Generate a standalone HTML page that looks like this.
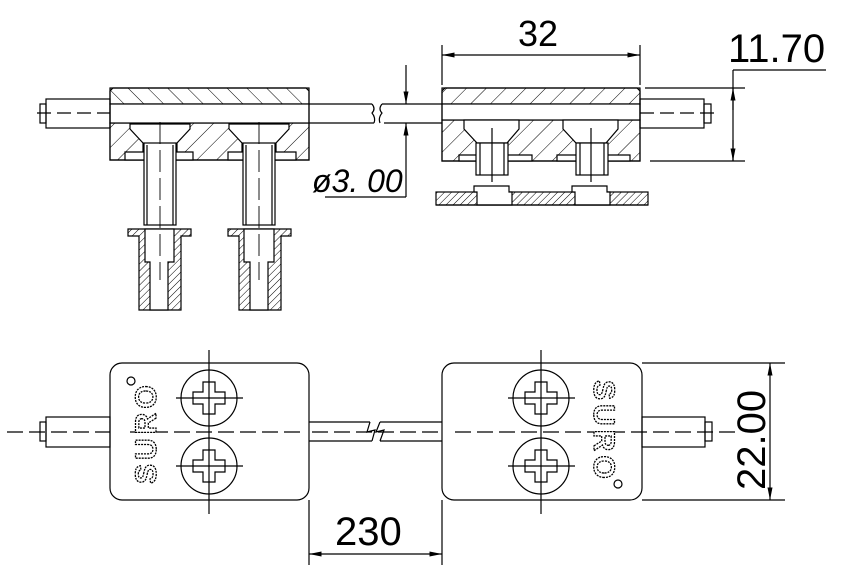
<!DOCTYPE html>
<html><head><meta charset="utf-8"><style>
html,body{margin:0;padding:0;background:#fff;}
svg{display:block;}
text{font-family:"Liberation Sans",sans-serif;}
</style></head><body>
<svg width="851" height="572" viewBox="0 0 851 572" xmlns="http://www.w3.org/2000/svg">
<defs>
<pattern id="h" width="14" height="14" patternUnits="userSpaceOnUse" patternTransform="rotate(45)">
<line x1="0" y1="0" x2="0" y2="14" stroke="#000" stroke-width="1"/></pattern>
<pattern id="h2" width="14" height="14" patternUnits="userSpaceOnUse" patternTransform="rotate(-45)">
<line x1="0" y1="0" x2="0" y2="14" stroke="#000" stroke-width="1"/></pattern>
<pattern id="hf" width="5" height="5" patternUnits="userSpaceOnUse" patternTransform="rotate(45)">
<line x1="0" y1="0" x2="0" y2="5" stroke="#000" stroke-width="1"/></pattern>
<marker id="a" viewBox="0 0 10 4" refX="10" refY="2" markerWidth="14" markerHeight="5" orient="auto-start-reverse" markerUnits="userSpaceOnUse"><path d="M0,0 L10,2 L0,4z" fill="#000"/></marker>
</defs>
<g fill="none" stroke="#000" stroke-width="1.2">

<rect x="110" y="88" width="199" height="16" fill="url(#h2)"/>
<path d="M110,123 H309 V160 H110Z" fill="url(#h)"/>
<rect x="110" y="104" width="199" height="19" fill="#fff"/>
<path d="M113,88 H306 L309,91 V160 H110 V91Z"/>
<g fill="#fff">
<path d="M130,124 H190 L190,129 L177,143 V152 H143 V143 L130,129Z"/>
<path d="M229,124 H289 L289,129 L276,143 V152 H242 V143 L229,129Z"/>
<path d="M125,152 H193 V160 H125Z"/><path d="M228,152 H296 V160 H228Z"/>
</g>
<rect x="144" y="143" width="32" height="82" fill="#fff"/>
<rect x="243" y="143" width="32" height="82" fill="#fff"/>
<line x1="147" y1="145" x2="147" y2="225"/><line x1="173" y1="145" x2="173" y2="225"/>
<line x1="246" y1="145" x2="246" y2="225"/><line x1="272" y1="145" x2="272" y2="225"/>
<g>
<path d="M128,229 H191 V236 H181 V310 H139 V236 H128Z" fill="url(#hf)"/>
<path d="M145,229 H174 V262 H168 V310 H150 V262 H145Z" fill="#fff"/>
<path d="M228,229 H291 V236 H281 V310 H239 V236 H228Z" fill="url(#hf)"/>
<path d="M244,229 H274 V262 H268 V310 H250 V262 H244Z" fill="#fff"/>
</g>
<line x1="309" y1="104" x2="372" y2="104"/><line x1="309" y1="123" x2="374" y2="123"/>
<path d="M372,104 q4,5 0,9 q4,5 2,10"/>
<path d="M382,104 q-4,5 0,9 q-4,5 -2,10"/>
<line x1="382" y1="104" x2="442" y2="104"/><line x1="384" y1="123" x2="442" y2="123"/>
<rect x="46" y="99" width="64" height="29"/>
<rect x="40" y="104" width="6" height="19"/>
<line x1="37" y1="113" x2="110" y2="113" stroke-dasharray="14,6"/>
<line x1="160" y1="122" x2="160" y2="280" stroke-dasharray="22,6" stroke-width="0.9"/>
<line x1="259" y1="122" x2="259" y2="280" stroke-dasharray="22,6" stroke-width="0.9"/>

<line x1="406" y1="65" x2="406" y2="104" marker-end="url(#a)"/>
<line x1="406" y1="197" x2="406" y2="123" marker-end="url(#a)"/>
<line x1="325" y1="197" x2="406" y2="197"/>

<rect x="442" y="88" width="198" height="16" fill="url(#h)"/>
<path d="M442,120 H640 V161 H442Z" fill="url(#h)"/>
<rect x="442" y="104" width="198" height="16" fill="#fff"/>
<path d="M445,88 H637 L640,91 V161 H442 V91Z"/>
<g fill="#fff">
<path d="M464,120 H519 V129 L507,143 H477 L464,129Z"/>
<path d="M563,120 H618 V129 L606,143 H576 L563,129Z"/>
<path d="M459,155 H532 V161 H459Z"/><path d="M557,155 H630 V161 H557Z"/>
</g>
<rect x="476" y="143" width="32" height="32" fill="#fff"/>
<rect x="576" y="143" width="32" height="32" fill="#fff"/>
<line x1="480" y1="143" x2="480" y2="175"/><line x1="504" y1="143" x2="504" y2="175"/>
<line x1="580" y1="143" x2="580" y2="175"/><line x1="604" y1="143" x2="604" y2="175"/>
<line x1="492" y1="128" x2="492" y2="182"/><line x1="591" y1="128" x2="591" y2="182"/>
<rect x="436" y="192" width="212" height="13" fill="url(#hf)"/>
<path d="M474,186 H509 V192 H512 V205 H477 V192 H474Z" fill="#fff"/>
<path d="M572,186 H607 V192 H610 V205 H575 V192 H572Z" fill="#fff"/>
<line x1="436" y1="205" x2="648" y2="205"/>
<rect x="640" y="99" width="64" height="29"/>
<rect x="704" y="104" width="7" height="19"/>
<line x1="640" y1="113" x2="714" y2="113" stroke-dasharray="14,6"/>
<line x1="442" y1="45" x2="442" y2="85"/><line x1="640" y1="45" x2="640" y2="85"/>
<line x1="442" y1="55" x2="640" y2="55" marker-start="url(#a)" marker-end="url(#a)"/>
<line x1="645" y1="88" x2="745" y2="88"/><line x1="650" y1="161" x2="745" y2="161"/>
<line x1="733" y1="70" x2="826" y2="70"/>
<line x1="733" y1="70" x2="733" y2="161"/>
<line x1="733" y1="110" x2="733" y2="88" marker-end="url(#a)"/>
<line x1="733" y1="140" x2="733" y2="161" marker-end="url(#a)"/>

<rect x="110" y="363" width="199" height="137" rx="12"/>
<rect x="442" y="363" width="200" height="137" rx="12"/>
<line x1="7" y1="432" x2="110" y2="432" stroke-dasharray="16,6"/>
<rect x="46" y="417" width="64" height="30"/>
<rect x="40" y="422" width="6" height="19"/>
<line x1="130" y1="432" x2="300" y2="432" stroke-dasharray="16,6"/>
<line x1="309" y1="422" x2="370" y2="422"/><line x1="309" y1="441" x2="372" y2="441"/>
<path d="M370,422 L367,432 L375,430 L372,441"/>
<path d="M380,422 L376,432 L384,430 L380,441"/>
<line x1="380" y1="422" x2="442" y2="422"/><line x1="380" y1="441" x2="442" y2="441"/>
<line x1="312" y1="432" x2="442" y2="432" stroke-dasharray="16,6"/>
<line x1="455" y1="432" x2="735" y2="432" stroke-dasharray="16,6"/>
<rect x="642" y="417" width="63" height="30"/>
<rect x="705" y="422" width="7" height="19"/>
<g id="s1">
<circle cx="209" cy="398" r="28"/><circle cx="209" cy="466" r="28"/>
<path d="M203,382 h12 v10 h10 v12 h-10 v10 h-12 v-10 h-10 v-12 h10z"/>
<path d="M203,450 h12 v10 h10 v12 h-10 v10 h-12 v-10 h-10 v-12 h10z"/>
<line x1="209" y1="350" x2="209" y2="514"/>
<line x1="176" y1="398" x2="243" y2="398"/><line x1="176" y1="466" x2="243" y2="466"/>
</g>
<use href="#s1" x="332"/>
<text x="0" y="0" transform="translate(156,484) rotate(-90)" font-size="30" font-weight="bold" letter-spacing="4" fill="#fff" stroke="#000" stroke-width="1.3" stroke-dasharray="2,1">SURO</text>
<circle cx="131" cy="381" r="4"/>
<text x="0" y="0" transform="translate(594,380) rotate(90)" font-size="30" font-weight="bold" letter-spacing="4" fill="#fff" stroke="#000" stroke-width="1.3" stroke-dasharray="2,1">SURO</text>
<circle cx="618" cy="484" r="4"/>
<line x1="642" y1="363" x2="785" y2="363"/><line x1="642" y1="500" x2="785" y2="500"/>
<line x1="770" y1="363" x2="770" y2="500" marker-start="url(#a)" marker-end="url(#a)"/>
<line x1="309" y1="500" x2="309" y2="565"/><line x1="442" y1="500" x2="442" y2="565"/>
<line x1="309" y1="554" x2="442" y2="554" marker-start="url(#a)" marker-end="url(#a)"/>
</g>
<g fill="#000">
<text x="518" y="46" font-size="36">32</text>
<text x="728" y="62" font-size="40">11.70</text>
<text x="312" y="192" font-size="32" font-style="italic" font-family="Liberation Serif">ø3. 00</text>
<text x="335" y="545" font-size="40">230</text>
<text transform="translate(765,490) rotate(-90)" font-size="40">22.00</text>
</g>
</svg>
</body></html>
